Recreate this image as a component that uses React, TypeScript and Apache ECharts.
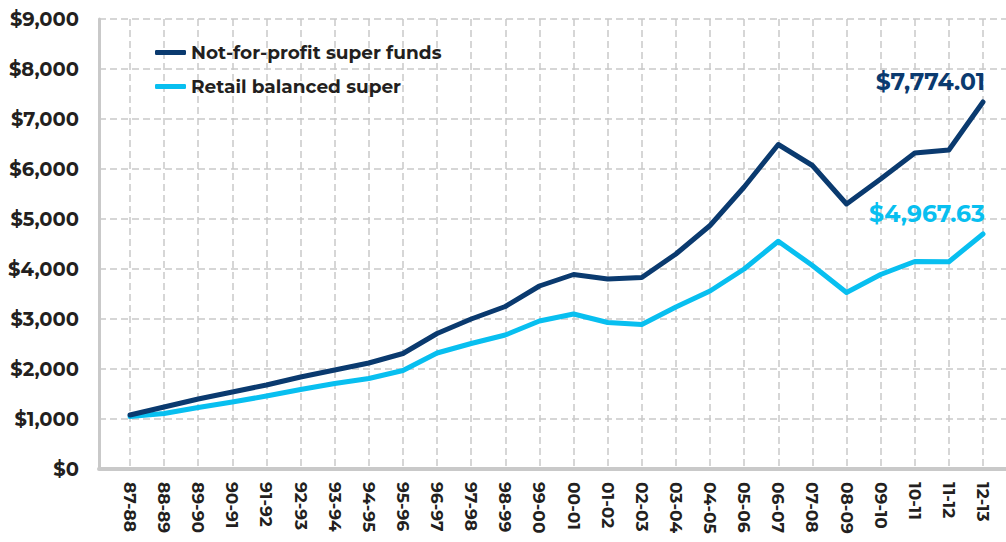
import React, { useEffect, useRef } from "react";
import * as echarts from "echarts";

const categories = [
  "87-88", "88-89", "89-90", "90-91", "91-92", "92-93", "93-94", "94-95", "95-96",
  "96-97", "97-98", "98-99", "99-00", "00-01", "01-02", "02-03", "03-04", "04-05",
  "05-06", "06-07", "07-08", "08-09", "09-10", "10-11", "11-12", "12-13",
];

const notForProfit = [
  1080, 1240, 1400, 1540, 1680, 1840, 1980, 2120, 2310,
  2710, 3000, 3250, 3660, 3890, 3800, 3830, 4300, 4870,
  5640, 6490, 6070, 5300, 5800, 6320, 6380, 7340,
];

const retailBalanced = [
  1050, 1110, 1230, 1340, 1460, 1590, 1710, 1810, 1970,
  2320, 2510, 2680, 2960, 3100, 2930, 2890, 3240, 3560,
  4000, 4555, 4070, 3530, 3890, 4150, 4145, 4700,
];

const yTicks = { min: 0, max: 9000, interval: 1000 };
const endLabels = ["$7,774.01", "$4,967.63"];
const seriesNames = ["Not-for-profit super funds", "Retail balanced super"];

const DARK = "#0a3a6f";
const LIGHT = "#08bff0";
const GRID = "#c9c9c9";
const TEXT = "#231f20";
const FONT = "Montserrat, 'Open Sans', sans-serif";

function withEndLabel(values: number[], text: string, color: string) {
  return values.map((v, i) =>
    i === values.length - 1
      ? {
          value: v,
          label: {
            show: true,
            position: "top",
            align: "right",
            offset: [2, -3],
            formatter: text,
            color,
            fontSize: 23.5,
            fontWeight: "bold",
            fontFamily: FONT,
          },
        }
      : v
  );
}

export default function App() {
  const ref = useRef<HTMLDivElement>(null);
  useEffect(() => {
    if (!ref.current) return;
    const chart = echarts.init(ref.current, undefined, { renderer: "svg" });
    const dashed = { color: GRID, width: 1.5, type: [7, 4] as any };
    chart.setOption({
      animation: false,
      backgroundColor: "#ffffff",
      textStyle: { fontFamily: FONT },
      legend: {
        orient: "vertical",
        left: 150,
        top: 38,
        itemGap: 15,
        itemWidth: 31,
        itemHeight: 5,
        icon: "roundRect",
        textStyle: { fontSize: 18.5, fontWeight: "bold", color: TEXT, fontFamily: FONT },
        data: seriesNames,
      },
      grid: [
        { left: 99, right: 0, top: 19, bottom: 73, containLabel: false },
        { left: 130, right: 23, top: 19, bottom: 73, containLabel: false },
      ],
      xAxis: [
        {
          type: "value",
          gridIndex: 0,
          min: 0,
          max: 1,
          axisLine: { show: true, onZero: false, lineStyle: { color: GRID, width: 4 } },
          axisTick: { show: false },
          axisLabel: { show: false },
          splitLine: { show: false },
        },
        {
          type: "category",
          gridIndex: 1,
          data: categories,
          boundaryGap: false,
          axisLine: { show: false },
          axisTick: { show: false },
          axisLabel: {
            rotate: -90,
            interval: 0,
            margin: 13,
            fontSize: 17,
            fontWeight: "bold",
            color: TEXT,
            fontFamily: FONT,
          },
          splitLine: { show: true, interval: 0, lineStyle: dashed },
        },
      ],
      yAxis: [
        {
          type: "value",
          gridIndex: 0,
          min: yTicks.min,
          max: yTicks.max,
          interval: yTicks.interval,
          axisLine: { show: true, lineStyle: { color: GRID, width: 3 } },
          axisTick: { show: false },
          axisLabel: {
            margin: 20,
            fontSize: 19.5,
            fontWeight: "bold",
            color: TEXT,
            fontFamily: FONT,
            formatter: (v: number) => "$" + v.toLocaleString("en-US"),
          },
          splitLine: { show: true, lineStyle: dashed },
        },
        {
          type: "value",
          gridIndex: 1,
          min: yTicks.min,
          max: yTicks.max,
          interval: yTicks.interval,
          show: false,
          splitLine: { show: false },
        },
      ],
      series: [
        {
          name: seriesNames[0],
          type: "line",
          xAxisIndex: 1,
          yAxisIndex: 1,
          data: withEndLabel(notForProfit, endLabels[0], DARK),
          showSymbol: true,
          symbol: "circle",
          symbolSize: 0.1,
          lineStyle: { color: DARK, width: 5, cap: "round", join: "round" },
          itemStyle: { color: DARK },
          z: 4,
        },
        {
          name: seriesNames[1],
          type: "line",
          xAxisIndex: 1,
          yAxisIndex: 1,
          data: withEndLabel(retailBalanced, endLabels[1], LIGHT),
          showSymbol: true,
          symbol: "circle",
          symbolSize: 0.1,
          lineStyle: { color: LIGHT, width: 5, cap: "round", join: "round" },
          itemStyle: { color: LIGHT },
          z: 3,
        },
      ],
    });
    return () => chart.dispose();
  }, []);
  return (
    <div
      ref={ref}
      style={{ position: "fixed", left: 0, top: 0, width: 1006, height: 542 }}
    />
  );
}
